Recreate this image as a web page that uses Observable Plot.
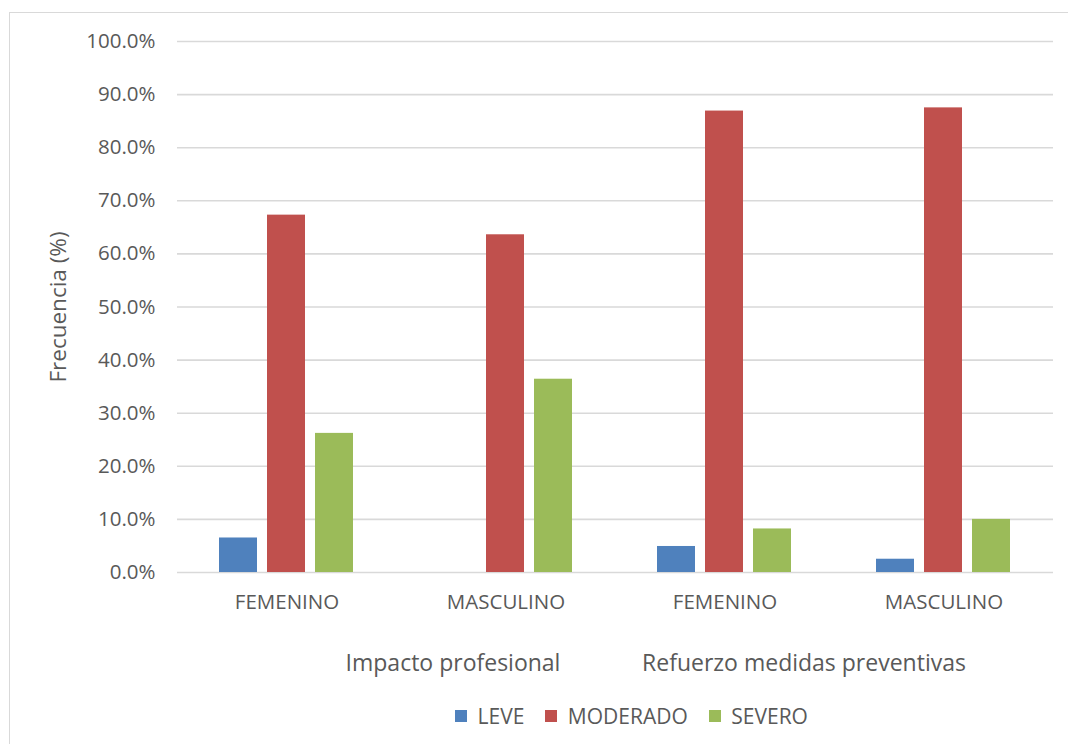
<!DOCTYPE html>
<html>
<head>
<meta charset="utf-8">
<script src="https://cdn.jsdelivr.net/npm/d3@7"></script>
<script src="https://cdn.jsdelivr.net/npm/@observablehq/plot@0.6"></script>
<style>
  body { margin: 0; background: #fff; font-family: "Open Sans", sans-serif; color: #595959; }
  #chart { position: relative; width: 1068px; height: 744px; overflow: hidden; }
  #frame { position: absolute; left: 9px; top: 12px; width: 1100px; height: 800px; border: 1px solid #d9d9d9; box-sizing: border-box; }
  #plot { position: absolute; left: 0; top: 0; }
  .grupo { position: absolute; top: 646px; font-size: 23px; white-space: nowrap; transform: translateX(-50%); color: #595959; }
  #legend { position: absolute; left: 455px; top: 699px; }
</style>
</head>
<body>
<div id="chart">
  <div id="frame"></div>
  <div id="plot"></div>
  <div id="grupos"></div>
  <div id="legend"></div>
</div>
<script>
// Categories: each bar cluster is one sex within one question block
const grupos = ["Impacto profesional", "Impacto profesional", "Refuerzo medidas preventivas", "Refuerzo medidas preventivas"];
const sexos = ["FEMENINO", "MASCULINO", "FEMENINO", "MASCULINO"];
const niveles = ["LEVE", "MODERADO", "SEVERO"];

// Frequencies (%) per severity level, one value per cluster
const leve = [6.5, 0, 4.9, 2.5];
const moderado = [67.3, 63.6, 86.9, 87.5];
const severo = [26.2, 36.4, 8.2, 10.0];

const colores = ["#4f81bd", "#c0504d", "#9bbb59"];
const yTicks = [0, 10, 20, 30, 40, 50, 60, 70, 80, 90, 100];

// Long table for Plot
const series = [leve, moderado, severo];
const datos = [];
sexos.forEach((s, i) => {
  niveles.forEach((n, j) => {
    datos.push({cluster: i, grupo: grupos[i], sexo: s, nivel: n, valor: series[j][i]});
  });
});

const ink = "#595959";

const chart = Plot.plot({
  width: 1068,
  height: 628,
  marginLeft: 177,
  marginRight: 15,
  marginTop: 41,
  marginBottom: 56,
  style: {fontFamily: "'Open Sans', sans-serif", color: ink, background: "transparent"},
  fx: {domain: [0, 1, 2, 3], padding: 0},
  x: {domain: niveles, paddingInner: 0.206, paddingOuter: 0.86},
  y: {domain: [0, 100]},
  color: {domain: niveles, range: colores},
  marks: [
    Plot.gridY(yTicks, {stroke: "#d9d9d9", strokeOpacity: 1, strokeWidth: 1.6}),
    Plot.barY(datos, {fx: "cluster", x: "nivel", y: "valor", fill: "nivel"}),
    Plot.axisY(yTicks, {
      tickSize: 0, tickPadding: 22, fontSize: 20.5,
      tickFormat: d => d.toFixed(1) + "%",
      label: "Frecuencia (%)", labelAnchor: "center", labelArrow: "none", labelOffset: 127
    }),
    Plot.axisFx({
      anchor: "bottom", tickSize: 0, tickPadding: 22, fontSize: 20.5,
      tickFormat: i => sexos[i], label: null
    }),
    Plot.axisX({ticks: [], label: null})
  ]
});
// the y-axis title is set a little larger than the tick labels
chart.querySelectorAll("text").forEach(t => {
  if (t.textContent === "Frecuencia (%)") t.setAttribute("font-size", 22.5);
});
document.getElementById("plot").appendChild(chart);

// Block titles beneath the sex labels
const posGrupo = {"Impacto profesional": 453, "Refuerzo medidas preventivas": 804};
const gdiv = document.getElementById("grupos");
[...new Set(grupos)].forEach(g => {
  const el = document.createElement("div");
  el.className = "grupo";
  el.style.left = posGrupo[g] + "px";
  el.textContent = g;
  gdiv.appendChild(el);
});

// Legend
const leg = Plot.legend({
  color: {domain: niveles, range: colores},
  legend: "swatches",
  swatchSize: 12,
  style: {fontFamily: "'Open Sans', sans-serif", fontSize: "21px", color: ink}
});
document.getElementById("legend").appendChild(leg);
</script>
</body>
</html>
